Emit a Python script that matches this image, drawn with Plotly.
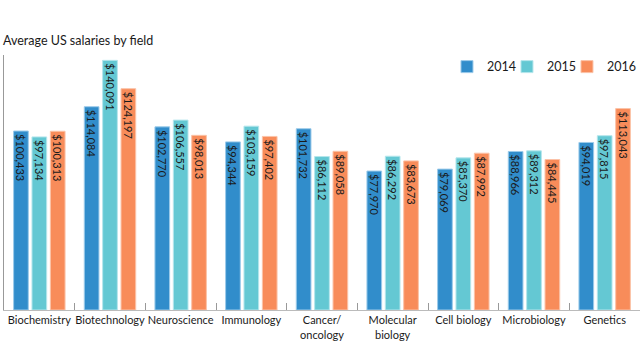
import plotly.graph_objects as go

fields = ["Biochemistry", "Biotechnology", "Neuroscience", "Immunology",
          "Cancer/<br>oncology", "Molecular<br>biology", "Cell biology",
          "Microbiology", "Genetics"]
years = ["2014", "2015", "2016"]
sal_2014 = [100433, 114084, 102770, 94344, 101732, 77970, 79069, 88966, 94019]
sal_2015 = [97134, 140091, 106557, 103159, 86112, 86292, 85370, 89312, 97815]
sal_2016 = [100313, 124197, 98013, 97402, 89058, 83673, 87992, 84445, 113043]
colors = ["#318dcb", "#64c8d3", "#f88c5a"]
borders = ["#9ccbea", "#b5e6ec", "#fbc3a8"]

fig = go.Figure()
for yr, vals, c, b in zip(years, [sal_2014, sal_2015, sal_2016], colors, borders):
    fig.add_trace(go.Bar(
        x=fields, y=vals, name=yr,
        marker=dict(color=c, line=dict(color=b, width=1)),
        text=[f"${v:,}" for v in vals],
        textposition="inside", insidetextanchor="end", textangle=90,
        constraintext="none",
        textfont=dict(family="Lato, sans-serif", size=11, color="#1a1a1a"),
        hoverinfo="skip",
    ))

fig.update_layout(
    width=640, height=360,
    margin=dict(l=4, r=0, t=55, b=50, autoexpand=False),
    paper_bgcolor="white", plot_bgcolor="white",
    barmode="group", bargap=0.22, bargroupgap=0.2,
    font=dict(family="Lato, sans-serif", size=11.5, color="#1a1a1a"),
    showlegend=True,
    legend=dict(orientation="h", x=0.6965, xanchor="left", y=0.953, yanchor="middle",
                font=dict(size=12.5), traceorder="normal", entrywidth=15,
                bgcolor="rgba(0,0,0,0)"),
    annotations=[dict(text="Average US salaries by field", x=-0.005, xref="paper",
                      xanchor="left", y=1 + (55 - 40) / 255, yref="paper",
                      yanchor="middle", showarrow=False,
                      font=dict(size=12.5, color="#1a1a1a"))],
)
fig.update_xaxes(tickson="boundaries", ticks="inside", ticklen=7, tickcolor="#999999",
                 tickangle=0, automargin=False,
                 showline=True, linecolor="#bbbbbb", linewidth=1,
                 tickfont=dict(size=11), fixedrange=True)
fig.update_yaxes(range=[0, 143100], showgrid=False, showticklabels=False,
                 showline=True, linecolor="#999999", linewidth=1, zeroline=False,
                 ticks="", fixedrange=True, automargin=False)

post = (
    "document.body.style.margin='0';"
    "document.querySelectorAll('.legend .scrollbox, .legend').forEach("
    "function(e){e.removeAttribute('clip-path');});"
)
fig.write_html("out.html", config={"displayModeBar": False}, post_script=post)
